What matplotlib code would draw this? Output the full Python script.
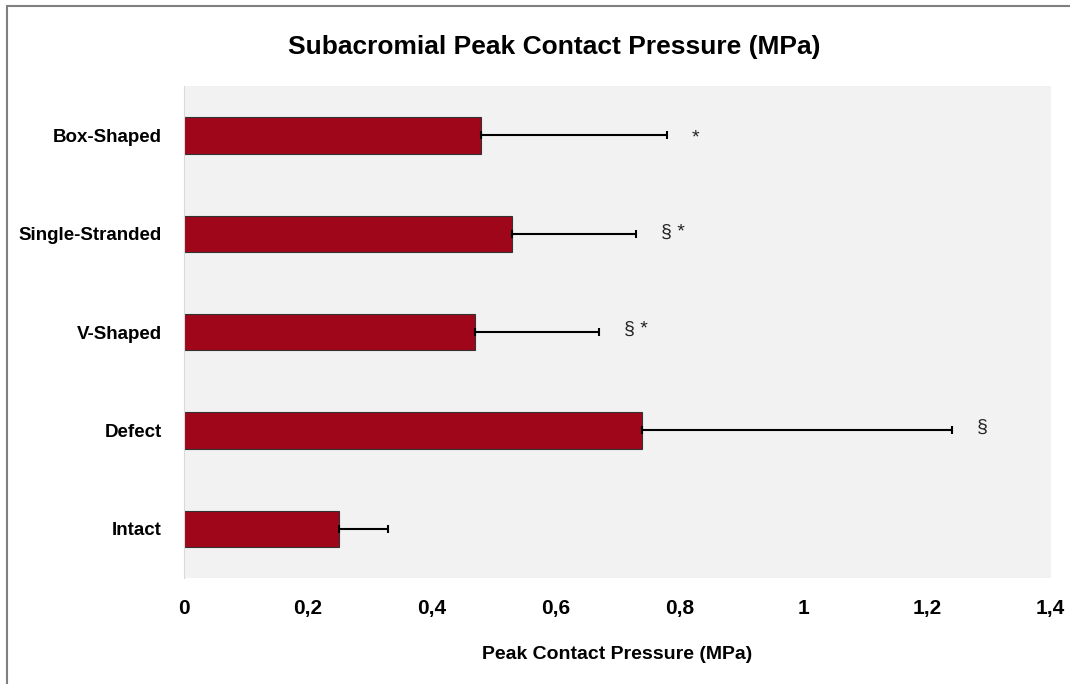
import numpy as np
import matplotlib
matplotlib.use('Agg')
from matplotlib import pyplot as plt
from matplotlib.patches import Rectangle
from matplotlib.ticker import FuncFormatter

plt.rcParams['font.family'] = ['Liberation Sans', 'DejaVu Sans']

# data
groups = ['Intact', 'Defect', 'V-Shaped', 'Single-Stranded', 'Box-Shaped']
means = [0.25, 0.74, 0.47, 0.53, 0.48]
sds = [0.08, 0.50, 0.20, 0.20, 0.30]
marks = ['', '§', '§ *', '§ *', '*']
mark_dy = [0, 0.03, 0.03, 0.01, -0.03]

fig = plt.figure(figsize=(10.7, 6.84), dpi=100)
ax = fig.add_axes([0.172, 0.155, 0.81, 0.719])
ax.set_facecolor('#F2F2F2')

y = np.arange(len(groups))
ax.barh(y, means, height=0.37, color='#A0061A', edgecolor='#333333', linewidth=0.8, zorder=2)
ax.errorbar(means, y, xerr=[np.zeros(len(sds)), sds], fmt='none', ecolor='black',
            elinewidth=1.5, capsize=3, capthick=1.5, zorder=3)

for yi, m, s, t, dy in zip(y, means, sds, marks, mark_dy):
    if t:
        ax.text(m + s + 0.04, yi + dy, t, fontsize=14,
                ha='left', va='center', color='#222222')

ax.set_xlim(0, 1.4)
ax.set_ylim(-0.5, 4.5)
ax.set_xticks(np.arange(0, 1.41, 0.2))
ax.xaxis.set_major_formatter(FuncFormatter(lambda v, p: ('%g' % round(v, 1)).replace('.', ',')))
ax.set_yticks(y)
ax.set_yticklabels(groups)
ax.tick_params(axis='x', length=0, labelsize=15, pad=15)
ax.tick_params(axis='y', length=0, labelsize=13.5, pad=16)
for lab in ax.get_xticklabels() + ax.get_yticklabels():
    lab.set_fontweight('bold')

for side in ['top', 'right', 'bottom']:
    ax.spines[side].set_visible(False)
ax.spines['left'].set_color('#D9D9D9')

ax.set_xlabel('Peak Contact Pressure (MPa)', fontsize=14, fontweight='bold', labelpad=20)
fig.text(0.518, 0.932, 'Subacromial Peak Contact Pressure (MPa)', fontsize=19,
         fontweight='bold', ha='center', va='center')

# chart border (left and top visible)
fig.patches.append(Rectangle((7 / 1070, -0.1), 1.2, 1.1 - 6 / 684, transform=fig.transFigure,
                             fill=False, edgecolor='#808080', linewidth=1.5))

fig.savefig('out.png', dpi=100)
